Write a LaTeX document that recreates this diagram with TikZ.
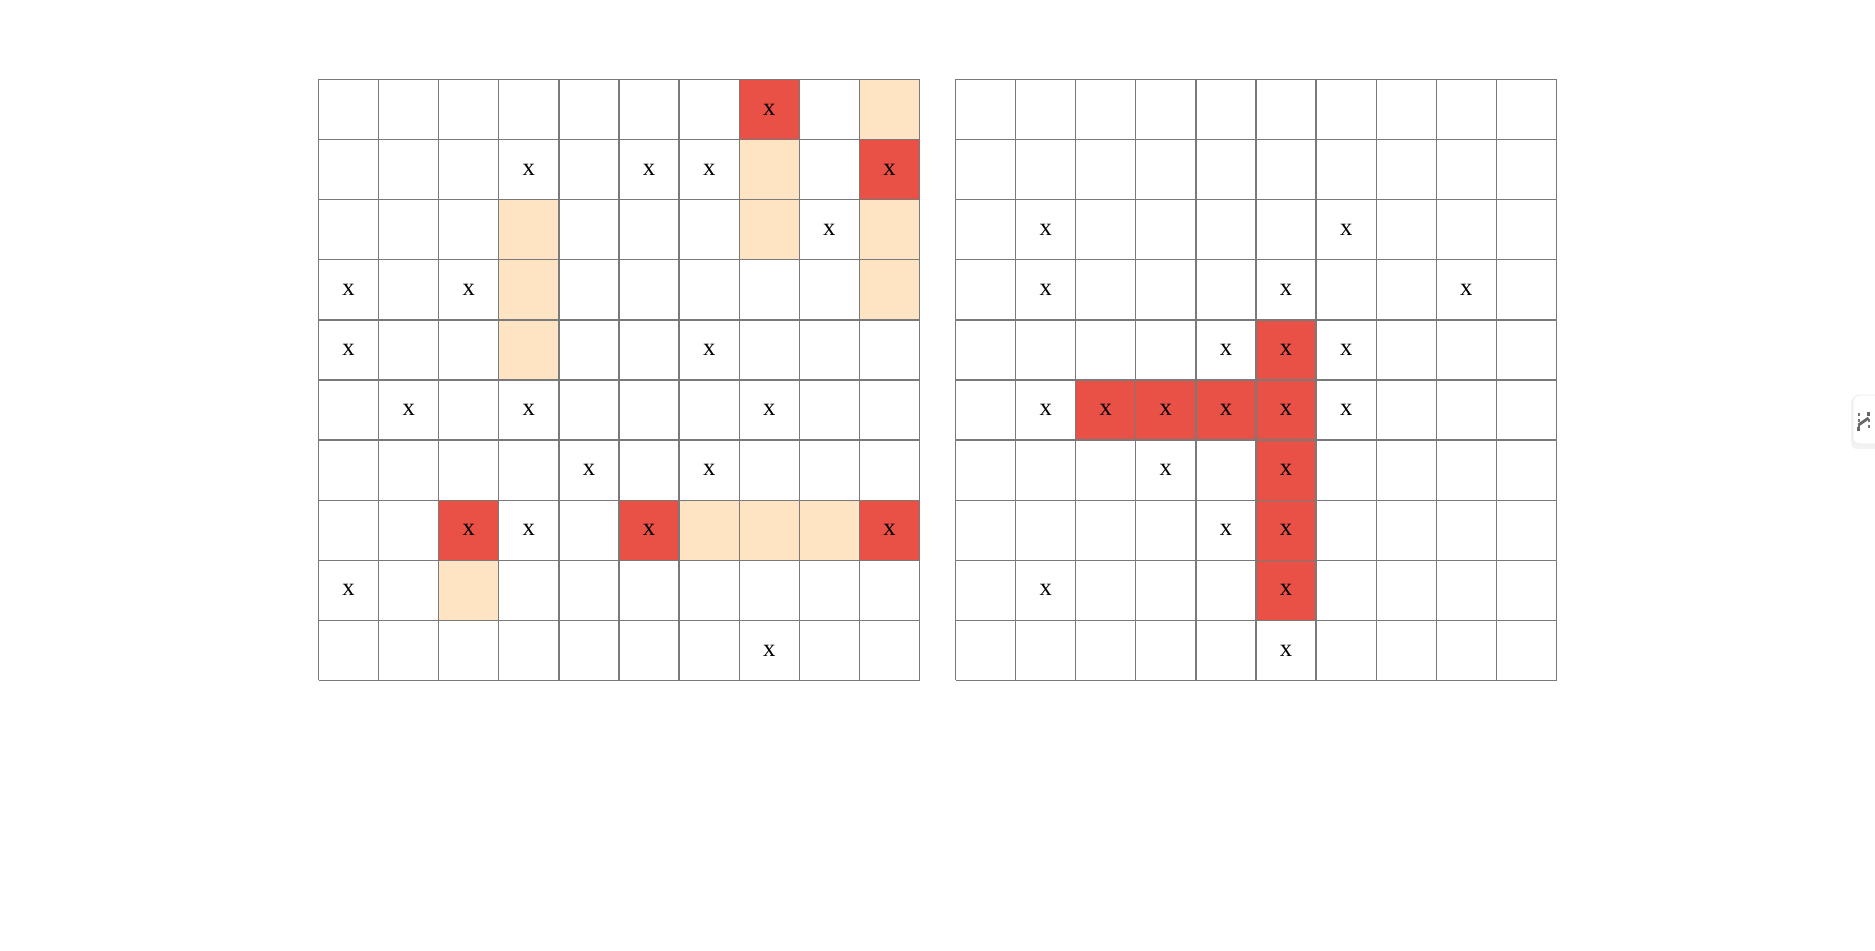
\documentclass[tikz,border=0pt]{standalone}
\usepackage{fontspec}
\setmainfont{Liberation Serif}
\definecolor{hitred}{RGB}{233,80,70}
\definecolor{peach}{RGB}{255,228,196}
\definecolor{gridgray}{RGB}{122,122,122}
\begin{document}
\begin{tikzpicture}[x=0.5pt,y=-0.5pt,
  cellx/.style={font=\fontsize{12.3}{14}\selectfont, inner sep=0pt, text=black},
  gridline/.style={draw=gridgray, line width=0.65pt},
  redcell/.style={fill=hitred},
  peachcell/.style={fill=peach}]
\useasboundingbox (0,0) rectangle (1875,951);
\def\S{60.1}
% ---------- left grid ----------
\begin{scope}[shift={(318.5,79.5)}]
  \foreach \r/\c in {0/9,1/7,2/3,2/7,2/9,3/3,3/9,4/3,7/6,7/7,7/8,8/2}
    \path[peachcell] (\c*\S,\r*\S) rectangle ++(\S,\S);
  \foreach \r/\c in {0/7,1/9,7/2,7/5,7/9}
    \path[redcell] (\c*\S,\r*\S) rectangle ++(\S,\S);
  \foreach \i in {0,...,10} {
    \draw[gridline] (\i*\S,0) -- (\i*\S,10*\S);
    \draw[gridline] (0,\i*\S) -- (10*\S,\i*\S);
  }
  \foreach \r/\c in {0/7,1/3,1/5,1/6,1/9,2/8,3/0,3/2,4/0,4/6,5/1,5/3,5/7,6/4,6/6,7/2,7/3,7/5,7/9,8/0,9/7}
    \node[cellx] (L-\r-\c) at ({(\c+0.5)*\S},{(\r+0.5)*\S}) {x};
\end{scope}
% ---------- right grid ----------
\begin{scope}[shift={(955.5,79.5)}]
  \foreach \r/\c in {4/5,5/2,5/3,5/4,5/5,6/5,7/5,8/5}
    \path[redcell] (\c*\S,\r*\S) rectangle ++(\S,\S);
  \foreach \i in {0,...,10} {
    \draw[gridline] (\i*\S,0) -- (\i*\S,10*\S);
    \draw[gridline] (0,\i*\S) -- (10*\S,\i*\S);
  }
  \foreach \r/\c in {2/1,2/6,3/1,3/5,3/8,4/4,4/5,4/6,5/1,5/2,5/3,5/4,5/5,5/6,6/3,6/5,7/4,7/5,8/1,8/5,9/5}
    \node[cellx] (R-\r-\c) at ({(\c+0.5)*\S},{(\r+0.5)*\S}) {x};
\end{scope}
% ---------- side widget ----------
\fill[black!5, rounded corners=3pt] (1851,397) rectangle (1885,449);
\draw[fill=white, draw=black!8, rounded corners=3pt] (1853,395) rectangle (1885,444);
\draw[black!55, line width=1pt, dash pattern=on 1.5pt off 1.5pt] (1858.5,413) -- (1858.5,430);
\draw[black!55, line width=1pt, dash pattern=on 1.5pt off 1.5pt] (1868.5,413) -- (1868.5,430);
\draw[black!60, line width=1.4pt] (1858.5,425) -- (1868.5,418);
\draw[black!60, line width=1.4pt] (1858.5,427) -- (1858.5,431);
\draw[black!60, line width=1.4pt] (1868.5,412) -- (1868.5,416);
\end{tikzpicture}
\end{document}
